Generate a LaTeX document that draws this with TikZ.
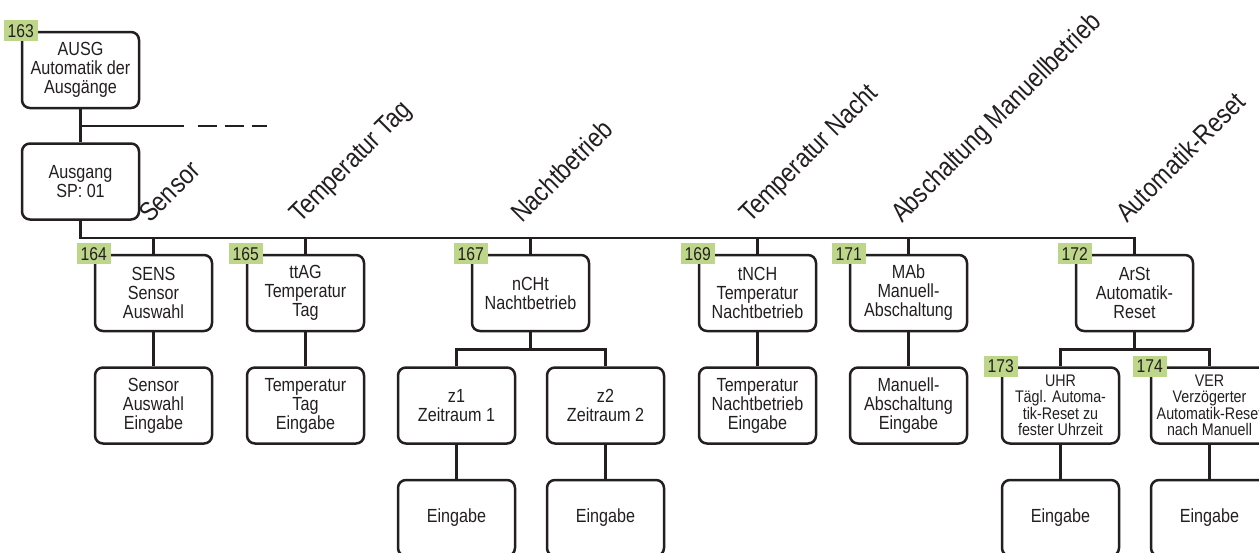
\documentclass[tikz,border=0pt]{standalone}
\usepackage{fontspec}
\setmainfont{Liberation Sans}[FakeStretch=0.85]
\usetikzlibrary{positioning}

\definecolor{ink}{RGB}{35,31,32}
\definecolor{tagGreen}{RGB}{190,214,138}

\tikzset{
  box/.style={draw=ink, line width=2.5pt, rounded corners=8pt, minimum width=117pt, minimum height=76pt,
    align=center, inner sep=1pt, text=ink, font=\fontsize{19}{19}\selectfont},
  smallbox/.style={box, font=\fontsize{16.8}{16.5}\selectfont},
  tag/.style={fill=tagGreen, minimum width=34pt, minimum height=21pt, inner sep=0pt, text=ink,
    font=\fontsize{18.5}{18.5}\selectfont},
  cat/.style={rotate=45, anchor=base west, inner sep=0pt, text=ink, font=\fontsize{27}{27}\selectfont},
  link/.style={draw=ink, line width=2.5pt},
}

\begin{document}
\begin{tikzpicture}[x=1pt, y=-1pt, node distance=34pt]
  \useasboundingbox (0,0) rectangle (1259,552);
  \clip (0,0) rectangle (1259,552);

  % Kopf
  \node[box] (aus) at (80.5,70) {AUSG\\Automatik der\\Ausgänge};
  \node[box] (ausgang) at (80.5,181.5) {Ausgang\\SP: 01};

  % erste Ebene
  \node[box] (sens) at (153.5,293) {SENS\\Sensor\\Auswahl};
  \node[box] (ttag) at (305.5,293) {ttAG\\Temperatur\\Tag};
  \node[box] (ncht) at (530.5,293) {nCHt\\Nachtbetrieb};
  \node[box] (tnch) at (757.5,293) {tNCH\\Temperatur\\Nachtbetrieb};
  \node[box] (mab) at (908.5,293) {MAb\\Manuell-\\Abschaltung};
  \node[box] (arst) at (1134.5,293) {ArSt\\Automatik-\\Reset};

  % zweite Ebene
  \node[box] (sensin) [below=of sens] {Sensor\\Auswahl\\Eingabe};
  \node[box] (ttagin) [below=of ttag] {Temperatur\\Tag\\Eingabe};
  \node[box] (z1) [below=of ncht, xshift=-74pt] {z1\\Zeitraum 1};
  \node[box] (z2) [below=of ncht, xshift=75pt] {z2\\Zeitraum 2};
  \node[box] (tnchin) [below=of tnch] {Temperatur\\Nachtbetrieb\\Eingabe};
  \node[box] (mabin) [below=of mab] {Manuell-\\Abschaltung\\Eingabe};
  \node[smallbox] (uhr) [below=of arst, xshift=-74pt] {UHR\\Tägl. Automa-\\tik-Reset zu\\fester Uhrzeit};
  \node[smallbox] (ver) [below=of arst, xshift=75pt] {VER\\Verzögerter\\Automatik-Reset\\nach Manuell};

  % dritte Ebene
  \node[box] (z1in) [below=of z1] {Eingabe};
  \node[box] (z2in) [below=of z2] {Eingabe};
  \node[box] (uhrin) [below=of uhr] {Eingabe};
  \node[box] (verin) [below=of ver] {Eingabe};

  % Nummern
  \node[tag] at (aus.north west) {163};
  \node[tag] at (sens.north west) {164};
  \node[tag] at (ttag.north west) {165};
  \node[tag] at (ncht.north west) {167};
  \node[tag] at (tnch.north west) {169};
  \node[tag] at (mab.north west) {171};
  \node[tag] at (arst.north west) {172};
  \node[tag] at (uhr.north west) {173};
  \node[tag] at (ver.north west) {174};

  % Verbindungen
  \draw[link] (aus) -- (ausgang);
  \path (aus.south) -- (ausgang.north) coordinate[midway] (fork);
  \draw[link] (fork) -- ++(103,0) coordinate (forkend);
  \draw[link, dash pattern=on 19pt off 8pt] (forkend) ++(14,0) -- ++(69,0);
  \draw[link] (ausgang.south) -- ++(0,17) coordinate (bus) -| (arst.north);
  \foreach \n in {sens,ttag,ncht,tnch,mab}
    \draw[link] (\n.north) -- (\n.north |- bus);
  \draw[link] (ncht.south) -- ++(0,17) coordinate (nfork);
  \draw[link] (z1.north) |- (nfork) -| (z2.north);
  \draw[link] (arst.south) -- ++(0,17) coordinate (afork);
  \draw[link] (uhr.north) |- (afork) -| (ver.north);
  \foreach \a/\b in {sens/sensin, ttag/ttagin, tnch/tnchin, mab/mabin, z1/z1in, z2/z2in, uhr/uhrin, ver/verin}
    \draw[link] (\a) -- (\b);

  % Gruppen
  \node[cat] (lsens) at (150,224) {Sensor};
  \node[cat] (lttag) at (300,224) {Temperatur Tag};
  \node[cat] (lncht) at (522,224) {Nachtbetrieb};
  \node[cat] (ltnch) at (750,224) {Temperatur Nacht};
  \node[cat] (lmab) at (902,224) {Abschaltung Manuellbetrieb};
  \node[cat] (larst) at (1127,224) {Automatik-Reset};
\end{tikzpicture}
\end{document}
